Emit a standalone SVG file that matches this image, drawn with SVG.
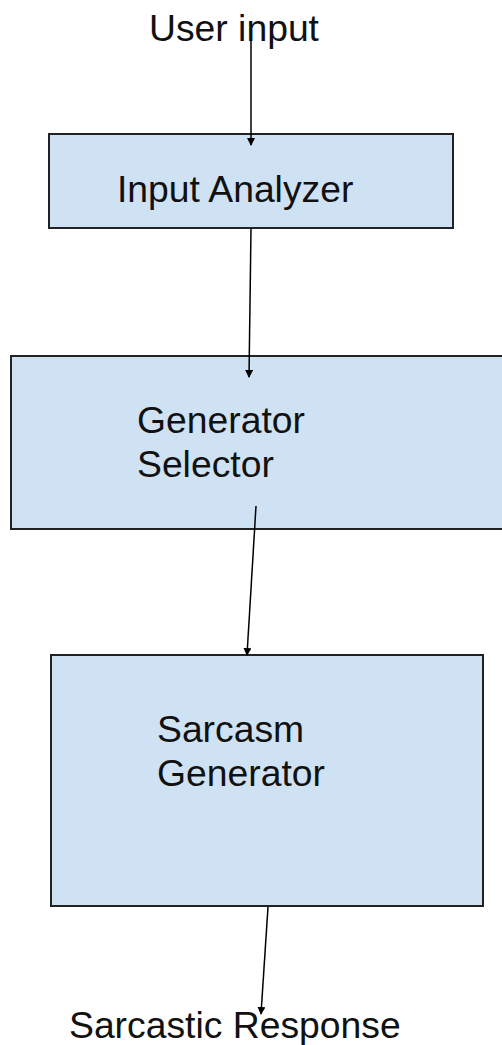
<svg xmlns="http://www.w3.org/2000/svg" width="502" height="1045" viewBox="0 0 502 1045">
<style>
.box{fill:#cfe2f3;stroke:#222;stroke-width:2}
.lbl{font-family:"Liberation Sans",Arial,sans-serif;font-size:37.3px;fill:#111}
.conn{stroke:#000;stroke-width:1.5;fill:none}
</style>
<defs>
<marker id="ah" markerWidth="8" markerHeight="8" refX="7" refY="4" orient="auto" markerUnits="userSpaceOnUse">
<path d="M0,0 L8,4 L0,8 Z" fill="#000"/>
</marker>
</defs>
<rect width="502" height="1045" fill="#fff"/>
<g id="user-input"><text class="lbl" x="149" y="41">User input</text></g>
<g id="input-analyzer">
<rect class="box" x="49" y="134" width="404" height="94"/>
<text class="lbl" x="117" y="202">Input Analyzer</text>
</g>
<g id="generator-selector">
<rect class="box" x="11" y="356" width="500" height="173"/>
<text class="lbl" x="137" y="433">Generator</text>
<text class="lbl" x="137" y="477">Selector</text>
</g>
<g id="sarcasm-generator">
<rect class="box" x="51" y="655" width="432" height="251"/>
<text class="lbl" x="157" y="742">Sarcasm</text>
<text class="lbl" x="157" y="786">Generator</text>
</g>
<g id="sarcastic-response"><text class="lbl" x="69" y="1038">Sarcastic Response</text></g>
<g id="connectors">
<line class="conn" x1="251" y1="40" x2="251" y2="145" marker-end="url(#ah)"/>
<line class="conn" x1="251" y1="229" x2="249" y2="377" marker-end="url(#ah)"/>
<line class="conn" x1="256" y1="506" x2="247" y2="655" marker-end="url(#ah)"/>
<line class="conn" x1="268" y1="907" x2="261" y2="1014" marker-end="url(#ah)"/>
</g>
</svg>
